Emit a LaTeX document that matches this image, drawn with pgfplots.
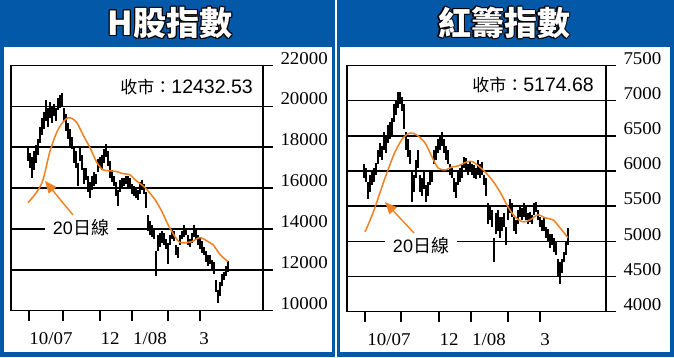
\documentclass[border=0pt]{standalone}
\usepackage{pgfplots}
\pgfplotsset{compat=1.18}
\usepackage{pgfplotstable}
\usetikzlibrary{arrows.meta}
\usepackage{fontspec}
\setmainfont{Liberation Sans}
\newfontfamily\cjk{Noto Sans CJK TC}
\newfontfamily\tickfont[FakeStretch=1.05]{Liberation Serif}
\definecolor{panelblue}{RGB}{4,88,168}
\definecolor{maorange}{RGB}{240,128,32}

% H-share index daily ranges (x = position along the time axis)
\pgfplotstableread{
x lo hi
28 17300 18000
30 17000 17700
32 16500 17500
34 16900 17800
36 17200 18100
38 17600 18400
40 18200 19000
42 18600 19400
44 18900 19700
46 19300 20300
48 19000 19900
50 19400 20200
52 19200 20000
54 19500 20100
56 19300 19900
58 19800 20400
60 19900 20550
62 20000 20650
64 19300 19900
66 18800 19600
68 18400 19200
70 18000 18900
72 17900 18500
74 17200 18000
76 17000 17800
78 16100 17200
80 17300 18000
82 16900 17600
84 16200 17000
86 16400 17000
88 15800 16600
90 15500 16300
92 15900 16600
94 16100 16800
96 16200 16700
98 16800 17400
100 17000 17500
102 16900 17600
104 17200 17900
106 17500 18150
108 17100 17800
110 16500 17300
112 16300 16900
114 16100 16600
116 15600 16300
118 15100 15900
120 15800 16400
122 16000 16500
124 16100 16500
126 16200 16600
128 16000 16600
130 16000 16500
132 15700 16200
134 15600 16100
136 15500 16000
138 15400 15900
140 15700 16300
142 15900 16400
144 15700 16200
146 15000 15800
148 13900 14700
150 13700 14400
152 13600 14200
154 13500 14000
156 11700 12900
158 12900 13700
160 13100 13800
162 13300 13900
164 13200 13800
166 13000 13500
168 12300 13300
170 13200 13700
172 13500 14000
174 13400 13900
176 12700 13200
178 12600 13100
180 13200 13700
182 13500 13900
184 13600 14200
186 13700 14000
188 13200 13700
190 13100 13500
192 13300 13800
194 13600 14200
196 13500 14000
198 13200 13700
200 13000 13600
202 12800 13400
204 12700 13100
206 12400 12900
208 12200 12700
210 12300 12700
212 12000 12500
214 11800 12400
216 10900 11500
218 10400 11000
220 10700 11400
222 11200 11800
224 11500 11900
226 11700 12200
228 11900 12450
}\hdata

% Red-chip index daily ranges
\pgfplotstableread{
x lo hi
364 5900 6100
366 5850 6050
368 5600 5850
370 5700 5950
372 5800 6000
374 5850 6050
376 5950 6120
378 6100 6300
380 6200 6400
382 6150 6350
384 6300 6550
386 6250 6500
388 6400 6650
390 6450 6700
392 6500 6750
394 6700 6950
396 6800 7000
398 6900 7120
400 6950 7130
402 6850 7050
404 6600 6950
406 6300 6550
408 6200 6450
410 6100 6300
412 5560 6000
414 5700 5950
416 5900 6150
418 6050 6300
420 5700 5950
422 5650 5900
424 5750 6000
426 5560 5800
428 5650 5850
430 5800 5980
432 5850 6000
434 6100 6300
436 6150 6350
438 6250 6450
440 6300 6500
442 6350 6550
444 6250 6450
446 6150 6350
448 6100 6300
450 5950 6100
452 5900 6050
454 5700 5900
456 5620 5850
458 5800 6000
460 5850 6050
462 5900 6080
464 6050 6200
466 6000 6180
468 5950 6100
470 5980 6130
472 5950 6100
474 5900 6080
476 5880 6050
478 5950 6150
480 5900 6100
482 5950 6130
484 5800 5950
486 5650 5900
488 5250 5550
490 5300 5500
492 5200 5450
494 4700 5050
496 5100 5400
498 5150 5450
500 5050 5350
502 5150 5350
504 5200 5400
506 4950 5200
508 5300 5500
510 5400 5600
512 5350 5550
514 5150 5350
516 5100 5300
518 5250 5450
520 5350 5500
522 5300 5480
524 5350 5550
526 5300 5520
528 5250 5400
530 5280 5420
532 5250 5380
534 5380 5550
536 5420 5560
538 5300 5450
540 5200 5350
542 5150 5300
544 5150 5350
546 5050 5200
548 5000 5180
550 4900 5100
552 4950 5100
554 4850 5050
556 4800 5000
558 4500 4750
560 4400 4700
562 4550 4750
564 4700 4850
566 4800 5000
568 4950 5190
}\rdata

\pgfplotsset{
  mychart/.style={
    scale only axis,
    axis line style={black, line width=1.4bp},
    tick align=outside,
    major tick length=10bp,
    xtick pos=left, ytick pos=right, yticklabel pos=right,
    tick style={black, line width=1.4bp},
    xticklabels={},
    ymajorgrids, grid style={black, line width=1.4bp},
    scaled y ticks=false,
    yticklabel style={font=\tickfont\fontsize{18bp}{18bp}\selectfont, yshift=7.2bp, xshift=4bp,
      /pgf/number format/1000 sep={}, /pgf/number format/assume math mode=true},
    extra x tick style={major tick length=0pt, xtick style={draw=none},
      xticklabel style={font=\tickfont\fontsize{18bp}{18bp}\selectfont, anchor=center, yshift=-27.6bp}},
  },
  candle/.style={draw=none, forget plot, error bars/.cd, y dir=both, y explicit,
    error mark=none, error bar style={draw=black, line width=#1}},
}

\newcommand\titlefont{\cjk\bfseries\fontsize{33bp}{33bp}\selectfont}
\newcommand\outlined[3]{%
  \foreach \dx/\dy in {-1.2/0,1.2/0,0/-1.2,0/1.2,-0.85/-0.85,0.85/0.85,-0.85/0.85,0.85/-0.85}{
    \node[black, font=\titlefont, inner sep=0] at ([xshift=\dx bp, yshift=\dy bp]#1,#2) {#3};}
  \node[white, font=\titlefont, inner sep=0] at (#1,#2) {#3};}

\begin{document}
\begin{tikzpicture}
\begin{scope}[x=1bp,y=1bp]
\useasboundingbox (0,0) rectangle (674,-357);
\fill[white] (0,0) rectangle (674,-357);
\fill[panelblue] (0,0) rectangle (335,-357);
\fill[panelblue] (337,0) rectangle (674,-357);
\fill[white] (4,-47) rectangle (332,-352);
\fill[white] (340,-47) rectangle (670,-352);
\outlined{170}{-23}{H股指數}
\outlined{504}{-23}{紅籌指數}
\end{scope}

% ---------- left: H shares ----------
\begin{axis}[mychart, at={(11bp,-310.7bp)}, anchor=south west, width=252bp, height=245.4bp,
  xmin=11, xmax=263, ymin=10000, ymax=22000, ytick={10000,12000,...,22000},
  xtick={29,63,100,132,168,200},
  extra x ticks={51,110,150,204}, extra x tick labels={10/07,12,1/08,3}]
\addplot[candle=1.1bp] table[x=x, y expr={(\thisrow{lo}+\thisrow{hi})/2}, y error expr={(\thisrow{hi}-\thisrow{lo})/2}] {\hdata};
\addplot[candle=2.8bp] table[x=x, y expr={(\thisrow{lo}+\thisrow{hi})/2}, y error expr={0.33*(\thisrow{hi}-\thisrow{lo})}] {\hdata};
\addplot[maorange, line width=1.5bp, smooth, tension=0.5] coordinates {
(28,15280) (37,15820) (43,16400) (50,17800) (57,18750) (63,19230) (68,19430) (72,19400)
(77,19185) (83,18600) (90,17970) (97,17230) (103,16890) (110,16840) (117,16800) (123,16700)
(130,16650) (135,16400) (145,16020) (155,15430) (162,14840) (168,14210) (175,13620)
(180,13330) (187,13330) (192,13380) (200,13575) (208,13380) (213,13230) (220,12750) (228,12400)};
\end{axis}

% ---------- right: red chips ----------
\begin{axis}[mychart, at={(347bp,-311.7bp)}, anchor=south west, width=259bp, height=246.2bp,
  xmin=347, xmax=606, ymin=4000, ymax=7500, ytick={4000,4500,...,7500},
  xtick={365,401,439,471,508,540},
  extra x ticks={389,449,489,545}, extra x tick labels={10/07,12,1/08,3}]
\addplot[candle=1.1bp] table[x=x, y expr={(\thisrow{lo}+\thisrow{hi})/2}, y error expr={(\thisrow{hi}-\thisrow{lo})/2}] {\rdata};
\addplot[candle=2.8bp] table[x=x, y expr={(\thisrow{lo}+\thisrow{hi})/2}, y error expr={0.33*(\thisrow{hi}-\thisrow{lo})}] {\rdata};
\addplot[maorange, line width=1.5bp, smooth, tension=0.5] coordinates {
(365,5135) (373,5405) (385,5900) (395,6270) (403,6470) (410,6540) (417,6510) (425,6400)
(432,6200) (438,6045) (445,6015) (452,6058) (458,6072) (467,6130) (473,6130) (483,6016)
(492,5874) (500,5703) (508,5490) (515,5348) (523,5277) (530,5306) (538,5377) (545,5334)
(553,5306) (560,5192) (568,5050)};
\end{axis}

\begin{scope}[x=1bp,y=1bp]
\node[anchor=east, inner sep=0] at (253,-86.7) {{\cjk\fontsize{17bp}{17bp}\selectfont 收市：}{\fontsize{19.5bp}{19.5bp}\selectfont 12432.53}};
\node[anchor=east, inner sep=0] at (594,-85) {{\cjk\fontsize{17bp}{17bp}\selectfont 收市：}{\fontsize{19.5bp}{19.5bp}\selectfont 5174.68}};
\node[fill=white, inner xsep=8bp, inner ysep=1bp] at (81,-228) {{\fontsize{18bp}{18bp}\selectfont 20}{\cjk\fontsize{18bp}{18bp}\selectfont 日線}};
\node[fill=white, inner xsep=8bp, inner ysep=1bp] at (421,-245.5) {{\fontsize{18bp}{18bp}\selectfont 20}{\cjk\fontsize{18bp}{18bp}\selectfont 日線}};
\draw[maorange, line width=1.4bp, -{Triangle[length=12bp,width=10bp]}] (73,-215) -- (45,-181);
\draw[maorange, line width=1.4bp, -{Triangle[length=12bp,width=10bp]}] (414,-233) -- (385,-202);
\end{scope}
\end{tikzpicture}
\end{document}
